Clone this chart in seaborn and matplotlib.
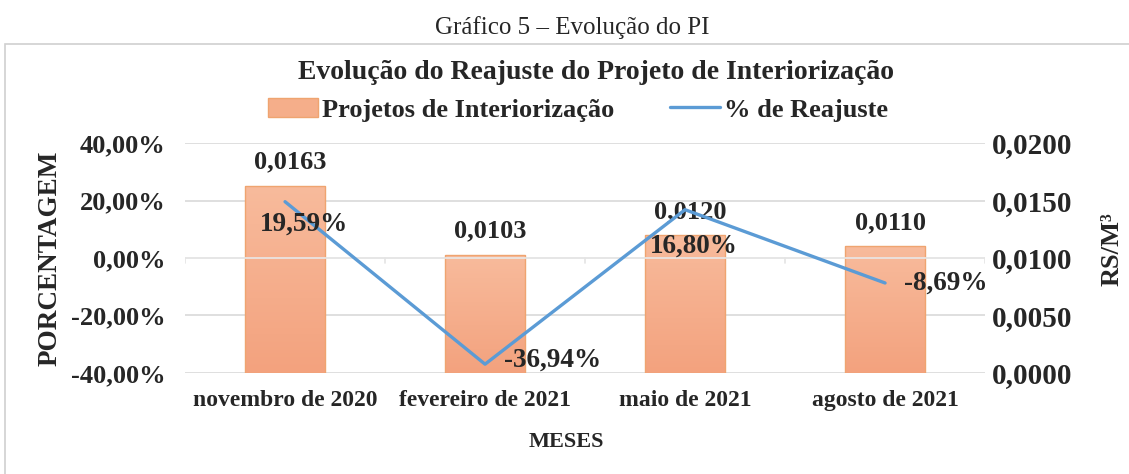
import seaborn as sns
import matplotlib
matplotlib.use('Agg')
import matplotlib.pyplot as plt
from matplotlib.ticker import FuncFormatter, FixedLocator
from matplotlib.patches import Rectangle, Patch
from matplotlib.lines import Line2D
from matplotlib.colors import LinearSegmentedColormap
import numpy as np
import pandas as pd

sns.set_style('white')
plt.rcParams['font.family'] = ['Liberation Serif', 'DejaVu Serif']
plt.rcParams['font.weight'] = 'bold'

# // data
meses = ['novembro de 2020', 'fevereiro de 2021', 'maio de 2021', 'agosto de 2021']
valor_pi = [0.0163, 0.0103, 0.0120, 0.0110]      # R$/m3 (bars, right axis)
reajuste = [19.59, -36.94, 16.80, -8.69]         # % (line, left axis)

bar_color = '#F5AE8A'
bar_edge = '#EFA470'
line_color = '#5B9BD5'
grid_color = '#D9D9D9'
grad = LinearSegmentedColormap.from_list('bar', ['#F3A27E', '#F8BB9C'])

df = pd.DataFrame({'mes': meses, 'valor': valor_pi, 'reajuste': reajuste})

fig = plt.figure(figsize=(11.29, 4.74), dpi=100)
ax = fig.add_axes([0.1639, 0.2131, 0.7086, 0.4852])
ax2 = ax.twinx()
# bars on the right axis, drawn behind the line axis
ax2.set_zorder(0)
ax.set_zorder(1)
ax.patch.set_visible(False)

sns.barplot(data=df, x='mes', y='valor', ax=ax2, color=bar_color, width=0.4,
            edgecolor=bar_edge, linewidth=1, saturation=1)
ax2.set_ylim(0, 0.02)
ax2.set_xlim(-0.5, len(meses) - 0.5)
# vertical gradient fill like the original (lighter at the top)
for p in ax2.patches:
    x0, y0 = p.get_x(), p.get_y()
    w, h = p.get_width(), p.get_height()
    img = ax2.imshow(np.linspace(0, 1, 100).reshape(-1, 1), cmap=grad, origin='lower',
                     extent=[x0, x0 + w, y0, y0 + h], aspect='auto', zorder=1.5)
    img.set_clip_path(p)
    p.set_facecolor('none')
    p.set_zorder(2)
ax2.set_ylim(0, 0.02)
ax2.set_xlim(-0.5, len(meses) - 0.5)
ax2.yaxis.set_major_locator(FixedLocator([0, 0.005, 0.01, 0.015, 0.02]))
ax2.yaxis.set_major_formatter(FuncFormatter(lambda v, p: f'{v:.4f}'.replace('.', ',')))
for y in [0, 0.005, 0.01, 0.015, 0.02]:
    ax2.axhline(y, color=grid_color, lw=1.2, zorder=0)
ax2.set_axisbelow(True)
ax2.set_xlabel('')

pos = np.arange(len(meses))
sns.lineplot(x=pos, y=reajuste, ax=ax, color=line_color, linewidth=2.4)
ax.set_ylim(-40, 40)
ax.set_xlim(-0.5, len(meses) - 0.5)
ax.yaxis.set_major_locator(FixedLocator([-40, -20, 0, 20, 40]))
ax.yaxis.set_major_formatter(FuncFormatter(lambda v, p: f'{v:.2f}%'.replace('.', ',')))

# horizontal category axis at 0 %
ax.axhline(0, color='#E8E8E8', lw=1.2, zorder=1.5)
for b in np.arange(len(meses) + 1) - 0.5:
    ax.plot([b, b], [0, -1.6], color='#E4E4E4', lw=1.2, zorder=1.5)

for a in (ax, ax2):
    for s in a.spines.values():
        s.set_visible(False)
    a.tick_params(length=0, labelsize=19)
ax.tick_params(axis='y', pad=14)
ax2.tick_params(axis='y', pad=5, labelsize=21)
ax.set_xticks(pos)
ax.set_xticklabels(meses, fontsize=17, fontweight='bold')
ax.tick_params(axis='x', pad=12)
for lbl in ax.get_yticklabels() + ax2.get_yticklabels():
    lbl.set_fontweight('bold')

ax.set_xlabel('MESES', fontsize=16, fontweight='bold')
ax.xaxis.set_label_coords(0.477, -0.255)
ax.set_ylabel('PORCENTAGEM', fontsize=19.5, fontweight='bold', labelpad=6)
ax2.set_ylabel('RS/M³', fontsize=19, fontweight='bold')
ax2.yaxis.set_label_coords(1.145, 0.54)

# bar value labels
for i, v in enumerate(valor_pi):
    ax2.annotate(f'{v:.4f}'.replace('.', ','), (i, v), xytext=(4, 17),
                 textcoords='offset points', ha='center', va='center',
                 fontsize=19, fontweight='bold', zorder=5)

# line value labels
offs = [(14, -16, 'center'), (14, 3, 'left'), (6, -26, 'center'), (14, 0, 'left')]
for i, v in enumerate(reajuste):
    dx, dy, ha = offs[i]
    ax.annotate(f'{v:.2f}%'.replace('.', ','), (i, v), xytext=(dx, dy),
                textcoords='offset points', ha=ha, va='center',
                fontsize=19.5, fontweight='bold', zorder=5)

# titles and legend
fig.text(0.507, 0.943, 'Gráfico 5 – Evolução do PI', ha='center', va='center',
         fontsize=18, fontweight='normal')
fig.text(0.528, 0.848, 'Evolução do Reajuste do Projeto de Interiorização',
         ha='center', va='center', fontsize=20, fontweight='bold')
handles = [Patch(facecolor=bar_color, edgecolor=bar_edge),
           Line2D([0], [0], color=line_color, lw=2.4)]
fig.legend(handles, ['Projetos de Interiorização', '% de Reajuste'],
           loc='center', bbox_to_anchor=(0.512, 0.768), ncol=2, frameon=False,
           prop={'size': 19, 'weight': 'bold'}, handlelength=1.9,
           handletextpad=0.15, columnspacing=2.1)

# chart border
fig.patches.append(Rectangle((0.0045, -0.01), 1.0, 0.917, transform=fig.transFigure,
                             fill=False, edgecolor='#D0D0D0', lw=1.2))

fig.savefig('out.png', dpi=100)
